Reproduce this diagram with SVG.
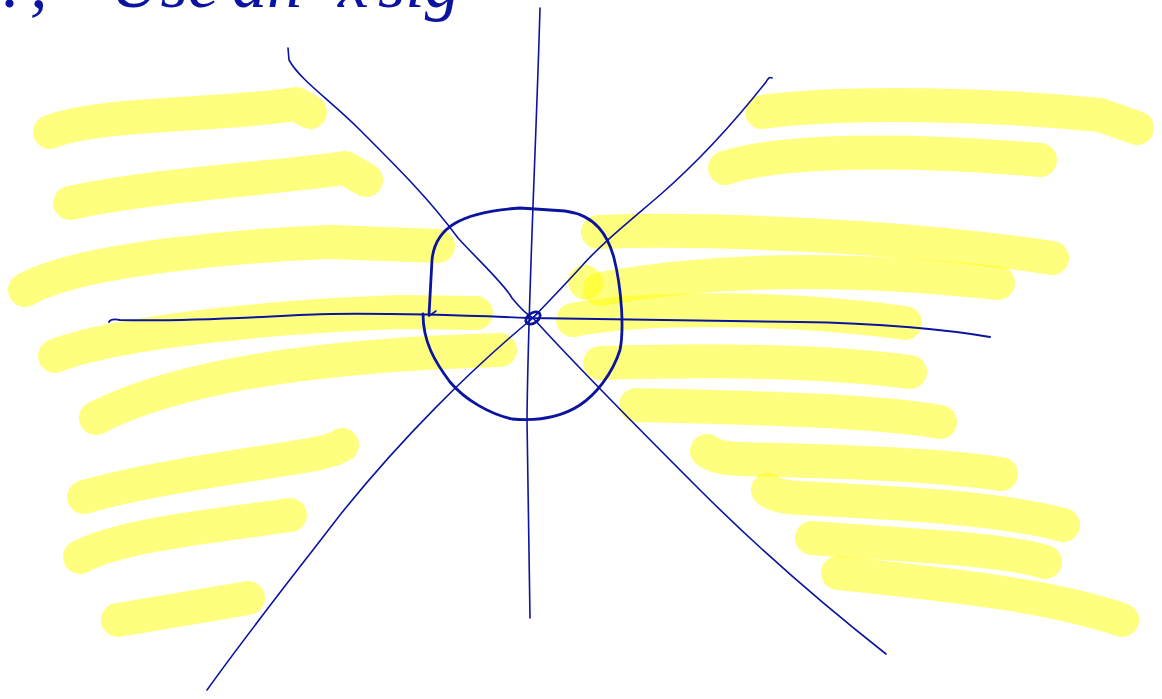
<svg xmlns="http://www.w3.org/2000/svg" width="1162" height="699" viewBox="0 0 1162 699">
<style>
.hl{fill:none;stroke:#ffff00;stroke-opacity:0.5;stroke-width:34;stroke-linecap:round;stroke-linejoin:round}
.ink{fill:none;stroke:#0b149e;stroke-width:1.6;stroke-linecap:round;stroke-linejoin:round}
.ink2{fill:none;stroke:#0b149e;stroke-width:2.8;stroke-linecap:round;stroke-linejoin:round}
.hand{font-family:"Liberation Serif",serif;font-style:italic;font-size:70px;fill:#0b149e}
</style>
<rect width="1162" height="699" fill="#ffffff"/>
<g id="heading">
<text class="hand" y="7"><tspan x="-36">y?,</tspan><tspan x="110">Use</tspan><tspan x="232">an</tspan><tspan x="338">x</tspan><tspan x="378">sig</tspan></text>
</g>
<g id="highlights-left">
<path class="hl" d="M50,132 C100,112 220,116 296,104 L310,112"/>
<path class="hl" d="M70,203 C150,185 260,180 345,168 L366,180"/>
<path class="hl" d="M25,290 C80,258 250,245 330,242 L438,246"/>
<path class="hl" d="M55,356 C120,330 300,315 400,312 L476,313"/>
<path class="hl" d="M96,418 C180,375 320,355 500,350"/>
<path class="hl" d="M84,497 C150,478 250,465 310,455 Q335,450 342,445"/>
<path class="hl" d="M80,557 C120,535 220,525 290,515"/>
<path class="hl" d="M118,620 L248,598"/>
</g>
<g id="highlights-right">
<path class="hl" d="M762,112 C850,100 1000,105 1100,115 L1137,128"/>
<path class="hl" d="M725,168 C780,150 900,148 1040,160"/>
<path class="hl" d="M598,232 C700,228 900,235 1052,258"/>
<path class="hl" d="M585,282 L586,283"/>
<path class="hl" d="M600,289 C680,275 800,262 998,283"/>
<path class="hl" d="M573,320 C650,305 800,308 905,323"/>
<path class="hl" d="M600,363 C700,360 820,360 910,372"/>
<path class="hl" d="M636,405 C750,408 870,410 940,422"/>
<path class="hl" d="M707,451 Q715,458 740,459 C850,462 930,464 1001,474"/>
<path class="hl" d="M768,490 Q775,497 800,498 C900,503 1000,508 1063,525"/>
<path class="hl" d="M812,538 C900,545 1000,548 1045,562"/>
<path class="hl" d="M838,573 C950,585 1050,595 1122,620"/>
</g>
<g id="axes">
<path class="ink" d="M540,8 C536,150 528,300 527,420 L530,618"/>
<path class="ink" style="stroke-width:1.9" d="M109,322 Q111,318 120,320 C200,322 280,315 330,314 C400,313 480,316 530,318 L800,322 C880,323 950,330 990,337"/>
<path class="ink" d="M288,48 L289,60 C300,80 330,100 360,130 C400,170 430,200 458,238 C480,262 505,285 512,298 C520,308 526,314 533,318"/>
<path class="ink" d="M772,78 Q769,76 766,82 C740,115 700,160 660,195 C625,225 600,245 580,268 C560,290 545,305 533,318"/>
<path class="ink" d="M533,318 C470,370 400,440 340,515 C290,580 250,630 207,690"/>
<path class="ink" d="M533,318 C580,370 640,430 700,490 C770,560 830,610 886,654"/>
</g>
<g id="outline">
<path class="ink2" d="M429,315 L432,260 C435,228 460,212 520,208 L565,211 C596,215 608,236 614,258 C622,290 624,330 620,350 C612,375 595,395 580,405 C560,418 535,421 512,419 C490,414 465,400 450,382 C435,362 423,342 423,314"/>
<path class="ink" d="M429,316 L436,311"/>
</g>
<g id="center">
<ellipse cx="533" cy="318" rx="8" ry="5" transform="rotate(-35 533 318)" class="ink2"/>
<path class="ink" d="M528,322 L538,313"/>
</g>
</svg>
